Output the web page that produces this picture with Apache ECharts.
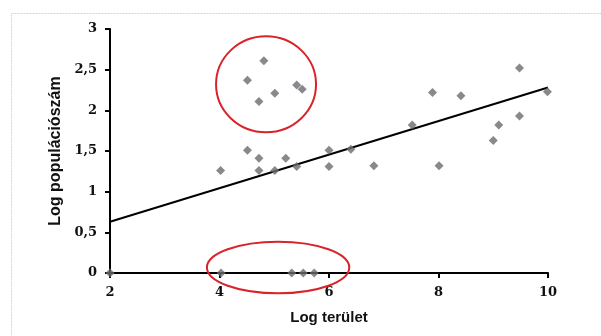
<!DOCTYPE html>
<html>
<head>
<meta charset="utf-8">
<script src="https://cdn.jsdelivr.net/npm/echarts@6/dist/echarts.min.js"></script>
<style>html,body{margin:0;padding:0;background:#fff}#c{width:601px;height:336px}</style>
</head>
<body>
<div id="c"></div>
<script>
// Data
var xValues = [2, 4.03, 5.32, 5.53, 5.73, 4.02, 4.51, 4.72, 4.72, 5.01, 5.21, 5.41, 6.0, 6.0, 6.40, 6.82, 7.52, 7.89, 8.01, 8.41, 9.0, 9.10, 9.48, 9.48, 9.99, 4.51, 4.81, 4.72, 5.01, 5.41, 5.51];
var yValues = [0, 0, 0, 0, 0, 1.26, 1.51, 1.41, 1.26, 1.26, 1.41, 1.31, 1.51, 1.31, 1.52, 1.32, 1.82, 2.22, 1.32, 2.18, 1.63, 1.82, 2.52, 1.93, 2.23, 2.37, 2.61, 2.11, 2.21, 2.31, 2.26];
var trendX = [2, 10];
var trendY = [0.63, 2.28];
// annotation ellipses: center x, center y, radius x, radius y (data units)
var ellipseCX = [4.85, 5.07];
var ellipseCY = [2.32, 0.068];
var ellipseRX = [0.913, 1.30];
var ellipseRY = [0.59, 0.317];
var xTicks = [2, 4, 6, 8, 10];
var yTicks = [0, 0.5, 1, 1.5, 2, 2.5, 3];

var points = xValues.map(function (x, i) { return [x, yValues[i]]; });
var trend = trendX.map(function (x, i) { return [x, trendY[i]]; });
var ellipses = ellipseCX.map(function (x, i) { return [x, ellipseCY[i], ellipseRX[i], ellipseRY[i]]; });

var chart = echarts.init(document.getElementById('c'));
var serif = '"DejaVu Serif", "Liberation Serif", serif';
var sans = '"Liberation Sans", Arial, sans-serif';
chart.setOption({
  animation: false,
  backgroundColor: '#fff',
  graphic: [{
    type: 'rect', left: 9, top: 11, shape: { width: 600, height: 330 },
    style: { fill: 'none', stroke: '#d4d4d4', lineWidth: 1, lineDash: [2, 1] }, silent: true, z: -1
  }],
  grid: { left: 110, right: 53, top: 29, bottom: 63 },
  xAxis: {
    type: 'value', min: 2, max: 10, interval: 2,
    name: 'Log terület', nameLocation: 'middle', nameGap: 37,
    nameTextStyle: { fontFamily: sans, fontWeight: 'bold', fontSize: 15, color: '#111' },
    axisLine: { show: true, lineStyle: { color: '#000', width: 2 } },
    axisTick: { show: true, length: 5, lineStyle: { color: '#000', width: 2 } },
    axisLabel: { fontFamily: serif, fontWeight: 'bold', fontSize: 13, color: '#111', margin: 13,
      formatter: function (v) { return xTicks.indexOf(v) >= 0 ? String(v) : ''; } },
    splitLine: { show: false }
  },
  yAxis: {
    type: 'value', min: 0, max: 3, interval: 0.5,
    name: 'Log populációszám', nameLocation: 'middle', nameGap: 45, nameRotate: 90,
    nameTextStyle: { fontFamily: sans, fontWeight: 'bold', fontSize: 16, color: '#111' },
    axisLine: { show: true, onZero: false, lineStyle: { color: '#000', width: 2 } },
    axisTick: { show: true, length: 5, lineStyle: { color: '#000', width: 2 } },
    axisLabel: { fontFamily: serif, fontWeight: 'bold', fontSize: 13, color: '#111', margin: 13,
      formatter: function (v) { return yTicks.indexOf(v) >= 0 ? String(v).replace('.', ',') : ''; } },
    splitLine: { show: false }
  },
  series: [
    {
      type: 'line', data: trend, symbol: 'none', z: 3,
      lineStyle: { color: '#000', width: 2 }
    },
    {
      type: 'scatter', data: points, symbol: 'diamond', symbolSize: 9, z: 4,
      itemStyle: { color: '#6a6a70' }
    },
    {
      type: 'custom', data: ellipses, z: 5, silent: true,
      renderItem: function (params, api) {
        var c = api.coord([api.value(0), api.value(1)]);
        var s = api.size([api.value(2), api.value(3)]);
        return {
          type: 'ellipse',
          shape: { cx: c[0], cy: c[1], rx: s[0], ry: s[1] },
          style: { fill: 'none', stroke: '#d8232a', lineWidth: 2 }
        };
      }
    }
  ]
});
</script>
</body>
</html>
